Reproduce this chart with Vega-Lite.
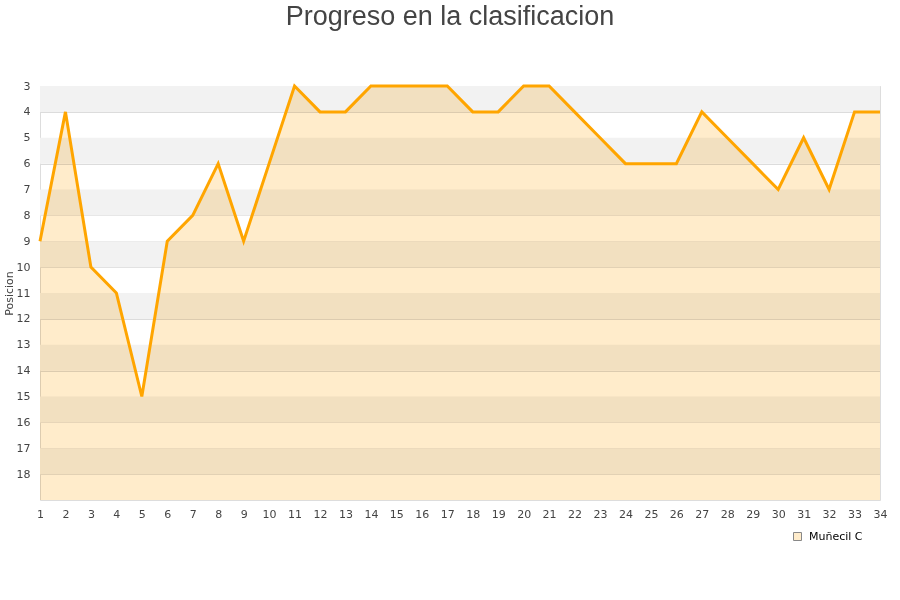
{
  "$schema": "https://vega.github.io/schema/vega-lite/v6.json",
  "width": 840,
  "height": 414,
  "autosize": "none",
  "padding": {"left": 40, "top": 86, "right": 20, "bottom": 100},
  "background": "white",
  "title": {
    "text": "Progreso en la clasificacion",
    "font": "Liberation Sans",
    "fontSize": 27,
    "fontWeight": "normal",
    "color": "#444444",
    "anchor": "middle",
    "dx": -10,
    "offset": 49
  },
  "config": {
    "view": {"stroke": "#dddddd", "strokeWidth": 1},
    "axis": {
      "labelFont": "DejaVu Sans",
      "labelFontSize": 11,
      "labelColor": "#444444",
      "titleFont": "DejaVu Sans",
      "titleFontSize": 11,
      "titleFontWeight": "normal",
      "titleColor": "#444444",
      "domain": false,
      "ticks": false,
      "labelOverlap": false,
      "labelFlush": false,
      "labelBound": false
    },
    "axisY": {"grid": true, "gridColor": "#dcdcdc", "labelPadding": 10, "titlePadding": 2, "zindex": 1},
    "axisX": {"grid": false, "labelPadding": 8}
  },
  "datasets": {
    "bands": [
      {"lo": 3, "hi": 4}, {"lo": 5, "hi": 6}, {"lo": 7, "hi": 8}, {"lo": 9, "hi": 10},
      {"lo": 11, "hi": 12}, {"lo": 13, "hi": 14}, {"lo": 15, "hi": 16}, {"lo": 17, "hi": 18}
    ],
    "pos": [
      {"jornada": 1, "pos": 9, "team": "Muñecil C"},
      {"jornada": 2, "pos": 4, "team": "Muñecil C"},
      {"jornada": 3, "pos": 10, "team": "Muñecil C"},
      {"jornada": 4, "pos": 11, "team": "Muñecil C"},
      {"jornada": 5, "pos": 15, "team": "Muñecil C"},
      {"jornada": 6, "pos": 9, "team": "Muñecil C"},
      {"jornada": 7, "pos": 8, "team": "Muñecil C"},
      {"jornada": 8, "pos": 6, "team": "Muñecil C"},
      {"jornada": 9, "pos": 9, "team": "Muñecil C"},
      {"jornada": 10, "pos": 6, "team": "Muñecil C"},
      {"jornada": 11, "pos": 3, "team": "Muñecil C"},
      {"jornada": 12, "pos": 4, "team": "Muñecil C"},
      {"jornada": 13, "pos": 4, "team": "Muñecil C"},
      {"jornada": 14, "pos": 3, "team": "Muñecil C"},
      {"jornada": 15, "pos": 3, "team": "Muñecil C"},
      {"jornada": 16, "pos": 3, "team": "Muñecil C"},
      {"jornada": 17, "pos": 3, "team": "Muñecil C"},
      {"jornada": 18, "pos": 4, "team": "Muñecil C"},
      {"jornada": 19, "pos": 4, "team": "Muñecil C"},
      {"jornada": 20, "pos": 3, "team": "Muñecil C"},
      {"jornada": 21, "pos": 3, "team": "Muñecil C"},
      {"jornada": 22, "pos": 4, "team": "Muñecil C"},
      {"jornada": 23, "pos": 5, "team": "Muñecil C"},
      {"jornada": 24, "pos": 6, "team": "Muñecil C"},
      {"jornada": 25, "pos": 6, "team": "Muñecil C"},
      {"jornada": 26, "pos": 6, "team": "Muñecil C"},
      {"jornada": 27, "pos": 4, "team": "Muñecil C"},
      {"jornada": 28, "pos": 5, "team": "Muñecil C"},
      {"jornada": 29, "pos": 6, "team": "Muñecil C"},
      {"jornada": 30, "pos": 7, "team": "Muñecil C"},
      {"jornada": 31, "pos": 5, "team": "Muñecil C"},
      {"jornada": 32, "pos": 7, "team": "Muñecil C"},
      {"jornada": 33, "pos": 4, "team": "Muñecil C"},
      {"jornada": 34, "pos": 4, "team": "Muñecil C"}
    ]
  },
  "layer": [
    {
      "data": {"name": "bands"},
      "mark": {"type": "rect", "color": "#f2f2f2"},
      "encoding": {
        "y": {"field": "lo", "type": "quantitative",
              "scale": {"domain": [3, 19], "reverse": true, "nice": false, "zero": false},
              "axis": {"title": "Posicion", "values": [3,4,5,6,7,8,9,10,11,12,13,14,15,16,17,18]}},
        "y2": {"field": "hi"}
      }
    },
    {
      "data": {"name": "pos"},
      "mark": {"type": "area", "fillOpacity": 1, "blend": "multiply"},
      "encoding": {
        "x": {"field": "jornada", "type": "quantitative",
              "scale": {"domain": [1, 34], "nice": false, "zero": false},
              "axis": {"title": null, "values": [1,2,3,4,5,6,7,8,9,10,11,12,13,14,15,16,17,18,19,20,21,22,23,24,25,26,27,28,29,30,31,32,33,34]}},
        "y": {"field": "pos", "type": "quantitative",
              "scale": {"domain": [3, 19], "reverse": true, "nice": false, "zero": false},
              "axis": {"title": "Posicion", "values": [3,4,5,6,7,8,9,10,11,12,13,14,15,16,17,18]}},
        "y2": {"datum": 19},
        "fill": {"field": "team", "type": "nominal",
                  "scale": {"range": ["#ffeccb"]},
                  "legend": {
                    "title": null, "orient": "none", "legendX": 752, "legendY": 445,
                    "symbolType": "square", "symbolSize": 64,
                    "symbolStrokeColor": "#888888", "symbolStrokeWidth": 1,
                    "labelFont": "DejaVu Sans", "labelFontSize": 11, "labelColor": "#000000",
                    "labelOffset": 6
                  }}
      }
    },
    {
      "data": {"name": "pos"},
      "mark": {"type": "line", "color": "#FFA500", "strokeWidth": 3},
      "encoding": {
        "x": {"field": "jornada", "type": "quantitative",
              "scale": {"domain": [1, 34], "nice": false, "zero": false},
              "axis": {"title": null, "values": [1,2,3,4,5,6,7,8,9,10,11,12,13,14,15,16,17,18,19,20,21,22,23,24,25,26,27,28,29,30,31,32,33,34]}},
        "y": {"field": "pos", "type": "quantitative",
              "scale": {"domain": [3, 19], "reverse": true, "nice": false, "zero": false},
              "axis": {"title": "Posicion", "values": [3,4,5,6,7,8,9,10,11,12,13,14,15,16,17,18]}}
      }
    }
  ]
}
